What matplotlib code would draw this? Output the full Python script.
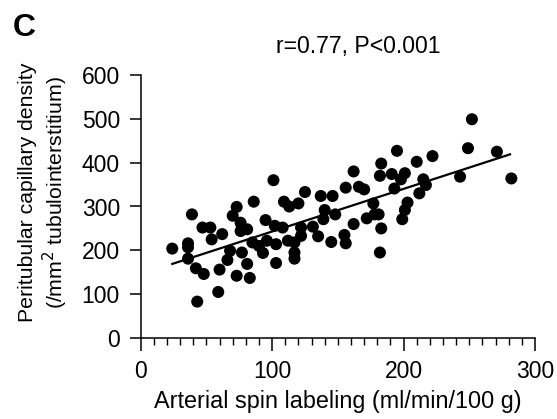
import matplotlib
matplotlib.use("Agg")
import matplotlib.pyplot as plt
from matplotlib.ticker import MultipleLocator

plt.rcParams['font.family'] = ['Liberation Sans', 'DejaVu Sans']

asl = [24, 39, 36, 36, 36, 42, 48, 43, 47, 53, 54, 62, 60, 59, 66, 68, 73, 70, 73, 76,
       76, 81, 77, 81, 83, 86, 85, 90, 93, 95, 96, 101, 102, 103, 103, 108, 109, 113, 112, 117,
       117, 117, 120, 122, 122, 125, 131, 135, 137, 146, 140, 139, 145, 148,
       252, 249, 271, 282, 243, 195, 222, 210, 183, 182, 162, 191, 201, 198, 215, 217,
       193, 212, 156, 166, 170, 177, 203, 201, 199, 181, 178, 172, 183, 162, 182, 155, 156]
pcd = [204, 282, 216, 207, 181, 159, 146, 83, 252, 252, 225, 237, 156, 105, 178, 199, 299, 279, 142, 263,
       244, 248, 195, 169, 137, 311, 218, 210, 194, 269, 222, 360, 256, 214, 171, 252, 311, 300, 222, 218,
       195, 181, 307, 252, 233, 333, 254, 232, 324, 324, 292, 271, 219, 282,
       499, 433, 425, 364, 368, 427, 415, 402, 398, 370, 380, 374, 376, 362, 362, 349,
       341, 330, 343, 345, 339, 307, 309, 292, 271, 282, 282, 273, 250, 260, 195, 235, 216]

fit_x = [24, 281]
fit_y = [169, 419]

x_ticks = [0, 100, 200, 300]
y_ticks = [0, 100, 200, 300, 400, 500, 600]

fig = plt.figure(figsize=(5.57, 4.19), dpi=100)
ax = fig.add_axes([140.7 / 557, 1 - 338 / 419, (535 - 140.7) / 557, (338 - 75) / 419])

ax.scatter(asl, pcd, s=75, color='black', edgecolors='none', zorder=3, clip_on=False)
ax.plot(fit_x, fit_y, color='black', lw=1.6, zorder=2)

ax.set_xlim(0, 300)
ax.set_ylim(0, 600)
ax.set_xticks(x_ticks)
ax.set_yticks(y_ticks)
ax.xaxis.set_minor_locator(MultipleLocator(10))
for s in ['top', 'right']:
    ax.spines[s].set_visible(False)
for s in ['left', 'bottom']:
    ax.spines[s].set_linewidth(1.1)
ax.tick_params(axis='x', which='major', length=9, width=1.1, direction='out', labelsize=16.5, pad=7)
ax.tick_params(axis='x', which='minor', length=5, width=1.0, direction='out')
ax.tick_params(axis='y', which='major', length=8, width=1.1, direction='out', labelsize=16.5, pad=7)

ax.set_xlabel('Arterial spin labeling (ml/min/100 g)', fontsize=16.8, labelpad=5)
ax.set_ylabel('Peritubular capillary density\n(/mm$^2$ tubulointerstitium)', fontsize=15.3,
              linespacing=1.15)
ax.yaxis.set_label_coords(-0.18, 0.555)

fig.text(358 / 557, 1 - 47 / 419, 'r=0.77, P<0.001', fontsize=16.6, ha='center', va='center')
fig.text(13 / 557, 1 - 13 / 419, 'C', fontsize=23, fontweight='bold', ha='left', va='top')

fig.savefig('out.png', dpi=100)
